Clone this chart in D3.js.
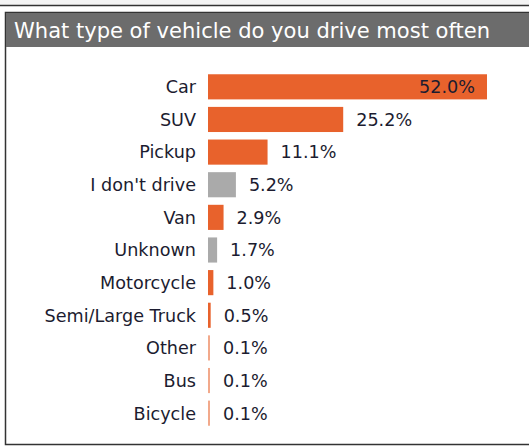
<!DOCTYPE html>
<html>
<head>
<meta charset="utf-8">
<script src="https://cdn.jsdelivr.net/npm/d3@7"></script>
<style>
  html, body { margin: 0; padding: 0; background: #fff; }
  svg { display: block; }
</style>
</head>
<body>
<div id="chart"></div>
<script>
// Survey: what type of vehicle do you drive most often
var categories = ["Car", "SUV", "Pickup", "I don't drive", "Van", "Unknown",
    "Motorcycle", "Semi/Large Truck", "Other", "Bus", "Bicycle"];
var shares = [52.0, 25.2, 11.1, 5.2, 2.9, 1.7, 1.0, 0.5, 0.1, 0.1, 0.1];
var nonDrivers = ["I don't drive", "Unknown"];

var W = 529, H = 447;
var orange = "#e8622c", grey = "#aaaaaa";
var font = "DejaVu Sans, Verdana, sans-serif";

var svg = d3.select("#chart").append("svg")
    .attr("width", W).attr("height", H);

// frame of the panel above (only its bottom edge shows)
svg.append("rect").attr("x", 0).attr("y", 0).attr("width", W).attr("height", 5)
    .attr("fill", "#f4f4f4");
svg.append("line").attr("x1", 0).attr("x2", W).attr("y1", 5.5).attr("y2", 5.5)
    .attr("stroke", "#333").attr("stroke-width", 1.5);

// panel frame
svg.append("rect")
    .attr("x", 5.5).attr("y", 12.5).attr("width", W + 10).attr("height", 432)
    .attr("fill", "#fff").attr("stroke", "#333").attr("stroke-width", 1.5);

// title bar
svg.append("rect")
    .attr("x", 6).attr("y", 13).attr("width", W).attr("height", 34)
    .attr("fill", "#6c6c6c");
svg.append("text")
    .attr("x", 14).attr("y", 38)
    .attr("fill", "#fff")
    .attr("font-family", font)
    .attr("font-size", 21)
    .attr("textLength", 476)
    .attr("lengthAdjust", "spacingAndGlyphs")
    .text("What type of vehicle do you drive most often");

var x = d3.scaleLinear().domain([0, 52]).range([208, 487]);
var y = d3.scaleBand().domain(categories).range([71, 429]).paddingInner(0.23).paddingOuter(0.1);

var rows = svg.append("g").selectAll("g")
    .data(categories)
    .join("g");

rows.append("rect")
    .attr("x", x(0))
    .attr("y", function (d) { return y(d); })
    .attr("height", y.bandwidth())
    .attr("width", function (d, i) { return Math.max(2, x(shares[i]) - x(0)); })
    .attr("fill", function (d) { return nonDrivers.indexOf(d) >= 0 ? grey : orange; })
    .attr("opacity", function (d, i) { return shares[i] < 0.5 ? 0.55 : 1; });

// category labels
rows.append("text")
    .attr("x", 196)
    .attr("y", function (d) { return y(d) + y.bandwidth() / 2; })
    .attr("dy", "0.36em")
    .attr("text-anchor", "end")
    .attr("fill", "#1c1c30")
    .attr("font-family", font)
    .attr("font-size", 17.6)
    .text(function (d) { return d; });

// value labels (inside the longest bar)
rows.append("text")
    .attr("x", function (d, i) {
        return i === 0 ? x(shares[i]) - 12 : Math.max(x(shares[i]), x(0) + 2) + 13;
    })
    .attr("y", function (d) { return y(d) + y.bandwidth() / 2; })
    .attr("dy", "0.36em")
    .attr("text-anchor", function (d, i) { return i === 0 ? "end" : "start"; })
    .attr("fill", "#1c1c30")
    .attr("font-family", font)
    .attr("font-size", 17.6)
    .text(function (d, i) { return shares[i].toFixed(1) + "%"; });
</script>
</body>
</html>
